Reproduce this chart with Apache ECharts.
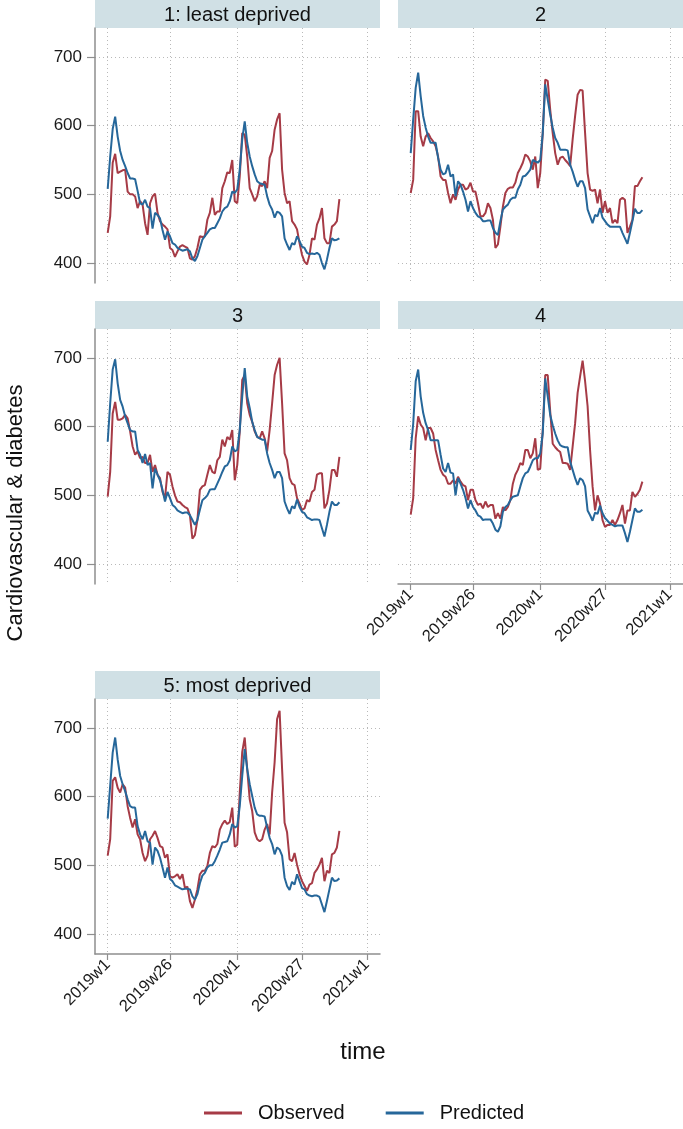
<!DOCTYPE html>
<html>
<head>
<meta charset="utf-8">
<script src="https://cdn.jsdelivr.net/npm/echarts@6/dist/echarts.min.js"></script>
<style>
html,body{margin:0;padding:0;background:#fff;}
#chart{width:683px;height:1129px;}
</style>
</head>
<body>
<div id="chart"></div>
<script>
// x ticks: Stata weekly dates, 52 weeks per year, index 0 = 2019w1
const tickWeeks = [0, 25, 52, 78, 104];
const tickLabels = ['2019w1', '2019w26', '2020w1', '2020w27', '2021w1'];
const yTicks = [400, 500, 600, 700];
const panelTitles = ['1: least deprived', '2', '3', '4', '5: most deprived'];
const seriesNames = ['Observed', 'Predicted'];

const obs1 = [444,468,546,559,531,533,535,536,504,500, 500,497,480,490,485,458,441,487,497,501,
  473,461,456,453,449,422,419,409,417,424, 426,424,422,407,405,410,422,439,438,439,
  463,473,495,470,475,475,509,519,532,531, 550,490,487,526,589,587,555,509,500,490,
  497,514,512,519,509,553,563,594,609,618, 536,502,487,490,461,456,449,429,412,402,
  398,412,436,434,456,465,480,436,429,429, 453,456,461,493];
const pred1 = [508,555,595,613,584,563,550,541,531,523, 523,522,505,487,485,492,482,480,450,473,
  470,465,448,434,446,439,429,427,422,420, 418,419,420,417,407,403,410,422,434,439,
  444,449,451,451,458,465,475,480,482,490, 504,502,507,536,580,606,575,555,541,529,
  519,516,515,514,497,485,478,466,475,473, 468,436,427,419,429,427,439,432,424,422,
  415,413,414,413,415,412,400,391,405,422, 436,433,434,436];

const obs2 = [502,521,621,621,584,570,584,589,582,577, 570,555,526,521,521,502,487,500,492,507,
  514,514,507,509,517,504,504,487,468,468, 473,487,480,463,422,427,453,482,502,508,
  510,510,517,531,538,546,558,555,548,536, 555,509,531,589,667,665,623,589,560,543,
  553,555,550,546,541,580,614,645,652,651, 589,531,507,505,507,487,507,473,490,473,
  480,458,463,458,492,495,492,444,453,463, 512,512,519,525];
const pred2 = [560,609,655,677,643,614,597,584,575,575, 575,553,536,529,531,543,526,529,497,519,
  514,504,492,475,490,480,473,468,466,461, 461,462,462,451,444,441,461,478,482,485,
  492,495,495,507,514,526,527,531,536,550, 548,546,550,589,660,638,616,597,582,575,
  565,565,565,564,543,533,521,511,519,519, 509,478,468,458,470,468,480,466,461,456,
  453,453,453,453,453,444,436,428,444,461, 479,473,473,477];

const obs3 = [498,534,619,636,610,610,612,617,612,593, 571,559,564,554,556,547,547,559,534,544,
  530,525,505,496,534,530,513,500,491,490, 486,483,481,471,437,442,464,508,513,515,
  530,544,534,532,551,556,581,571,585,581, 595,522,544,593,668,675,634,617,607,593,
  585,583,593,583,564,595,634,675,690,700, 634,561,551,525,517,515,496,488,479,481,
  493,491,505,508,530,532,532,481,488,508, 537,537,527,556];
const pred3 = [578,634,683,698,663,639,629,615,605,595, 593,593,566,559,547,560,544,547,510,539,
  530,522,508,491,505,496,486,483,478,476, 474,475,475,471,464,457,464,479,493,496,
  500,508,509,509,517,525,534,542,544,551, 571,564,566,595,644,685,644,627,607,595,
  585,583,581,581,561,547,537,525,534,534, 525,491,481,473,484,481,494,483,476,474,
  468,466,464,465,465,464,452,440,457,476, 491,486,486,490];

const obs4 = [472,496,583,615,603,598,580,598,598,590, 566,551,537,530,527,517,517,522,517,527,
  520,515,513,493,508,508,493,486,488,481, 491,483,486,486,466,474,466,483,478,483,
  493,517,530,537,547,544,566,566,554,561, 583,537,539,595,675,675,622,575,570,566,
  563,547,547,546,537,571,605,649,673,696, 666,630,566,513,478,500,488,464,454,457,
  457,464,457,464,474,486,459,478,478,505, 498,502,508,520];
const pred4 = [566,604,666,683,644,620,605,595,580,580, 580,580,559,539,534,547,533,532,500,525,
  517,508,496,481,493,483,478,471,469,464, 465,465,465,459,450,447,455,476,483,486,
  493,498,499,500,513,525,532,534,542,551, 554,554,561,590,670,644,617,602,590,580,
  573,571,570,570,549,537,525,515,525,522, 513,478,471,463,475,473,485,474,467,463,
  459,457,455,456,456,456,445,432,447,464, 481,476,476,479];

const obs5 = [514,538,623,628,613,606,618,613,586,569, 555,567,545,538,518,506,514,538,543,550,
  540,528,526,511,516,484,482,484,487,480, 487,467,469,448,438,450,465,487,492,492,
  499,518,528,526,531,552,560,565,560,563, 584,527,530,605,665,686,640,596,579,548,
  538,535,538,552,560,545,606,650,713,725, 640,562,548,509,506,518,501,487,477,470,
  463,472,474,489,494,501,511,477,492,489, 516,518,526,550];
const pred5 = [568,616,664,686,654,630,618,608,596,586, 584,584,557,545,538,550,535,533,501,526,
  521,511,497,482,497,480,477,471,469,467, 465,466,466,465,455,450,458,474,485,489,
  497,500,500,506,514,523,533,534,535,545, 560,555,557,586,630,669,640,618,601,584,
  574,572,572,571,555,540,531,516,526,523, 514,482,470,464,476,472,487,477,467,465,
  458,456,455,456,456,454,443,432,448,465, 482,477,478,481];

const observed = [obs1, obs2, obs3, obs4, obs5];
const predicted = [pred1, pred2, pred3, pred4, pred5];

const RED = '#a63b46';
const BLUE = '#26679a';
const FONT = '"Liberation Sans", Arial, Helvetica, sans-serif';
const AXIS_COL = '#8e8e8e';
const GRID_COL = '#b9b9b9';

// panel layout: [left, top] of each plot region
const panelPos = [[95, 28], [398, 28], [95, 329], [398, 329], [95, 699]];
const PW = 285, PH = 255, HEADER_H = 28;
const showYAxis = [true, false, true, false, true];
const showXAxis = [false, false, false, true, true];

const grids = [], xAxes = [], yAxes = [], series = [], graphics = [];

panelPos.forEach((p, i) => {
  grids.push({ left: p[0], top: p[1], width: PW, height: PH, containLabel: false });
  xAxes.push({
    type: 'value', gridIndex: i, min: -5.1, max: 109.3,
    axisLine: { show: showXAxis[i], onZero: false, lineStyle: { color: AXIS_COL, width: 1.5 } },
    axisTick: { show: showXAxis[i], customValues: tickWeeks, length: 6, lineStyle: { color: AXIS_COL, width: 1.2 } },
    axisLabel: {
      show: showXAxis[i], customValues: tickWeeks, rotate: 45, margin: 8,
      fontSize: 16.5, fontFamily: FONT, color: '#1a1a1a',
      formatter: v => tickLabels[tickWeeks.indexOf(Math.round(v))] || ''
    },
    splitLine: { show: true, lineStyle: { color: GRID_COL, width: 1, type: [1, 3] } }
  });
  yAxes.push({
    type: 'value', gridIndex: i, min: 371, max: 742,
    axisLine: { show: showYAxis[i], onZero: false, lineStyle: { color: AXIS_COL, width: 1.5 } },
    axisTick: { show: showYAxis[i], customValues: yTicks, length: 8, lineStyle: { color: AXIS_COL, width: 1.2 } },
    axisLabel: {
      show: showYAxis[i], customValues: yTicks, margin: 13,
      fontSize: 17, fontFamily: FONT, color: '#1a1a1a'
    },
    splitLine: { show: true, lineStyle: { color: GRID_COL, width: 1, type: [1, 3] } }
  });
  const predData = predicted[i].map((v, k) => [k, v]);
  const obsData = observed[i].map((v, k) => [k, v]);
  series.push({
    name: 'Observed', type: 'line', xAxisIndex: i, yAxisIndex: i, data: obsData,
    showSymbol: false, symbol: 'none', lineStyle: { color: RED, width: 2 }, itemStyle: { color: RED },
    emphasis: { disabled: true }, z: 2
  });
  series.push({
    name: 'Predicted', type: 'line', xAxisIndex: i, yAxisIndex: i, data: predData,
    showSymbol: false, symbol: 'none', lineStyle: { color: BLUE, width: 2 }, itemStyle: { color: BLUE },
    emphasis: { disabled: true }, z: 3
  });
  // header strip
  graphics.push({
    type: 'rect', shape: { x: p[0], y: p[1] - HEADER_H, width: PW, height: HEADER_H },
    style: { fill: '#d0e0e5' }, silent: true
  });
  graphics.push({
    type: 'text', x: p[0] + PW / 2, y: p[1] - HEADER_H / 2 + 1,
    style: { text: panelTitles[i], textAlign: 'center', textVerticalAlign: 'middle',
      font: '20px ' + FONT, fill: '#111' }, silent: true
  });
});

graphics.push({
  type: 'text', x: 16, y: 513, rotation: Math.PI / 2,
  style: { text: 'Cardiovascular & diabetes', textAlign: 'center', textVerticalAlign: 'middle',
    font: '22px ' + FONT, fill: '#111' }, silent: true
});
graphics.push({
  type: 'text', x: 363, y: 1052,
  style: { text: 'time', textAlign: 'center', textVerticalAlign: 'middle',
    font: '24px ' + FONT, fill: '#111' }, silent: true
});

const chart = echarts.init(document.getElementById('chart'), null, { renderer: 'canvas' });
chart.setOption({
  animation: false,
  backgroundColor: '#fff',
  grid: grids,
  xAxis: xAxes,
  yAxis: yAxes,
  series: series,
  legend: {
    data: seriesNames, left: 199, top: 1095, icon: 'rect', itemWidth: 38, itemHeight: 3,
    itemGap: 41, selectedMode: false,
    textStyle: { fontSize: 20, fontFamily: FONT, color: '#111', padding: [0, 0, 0, 11], lineHeight: 26 }
  },
  graphic: graphics
});
</script>
</body>
</html>
